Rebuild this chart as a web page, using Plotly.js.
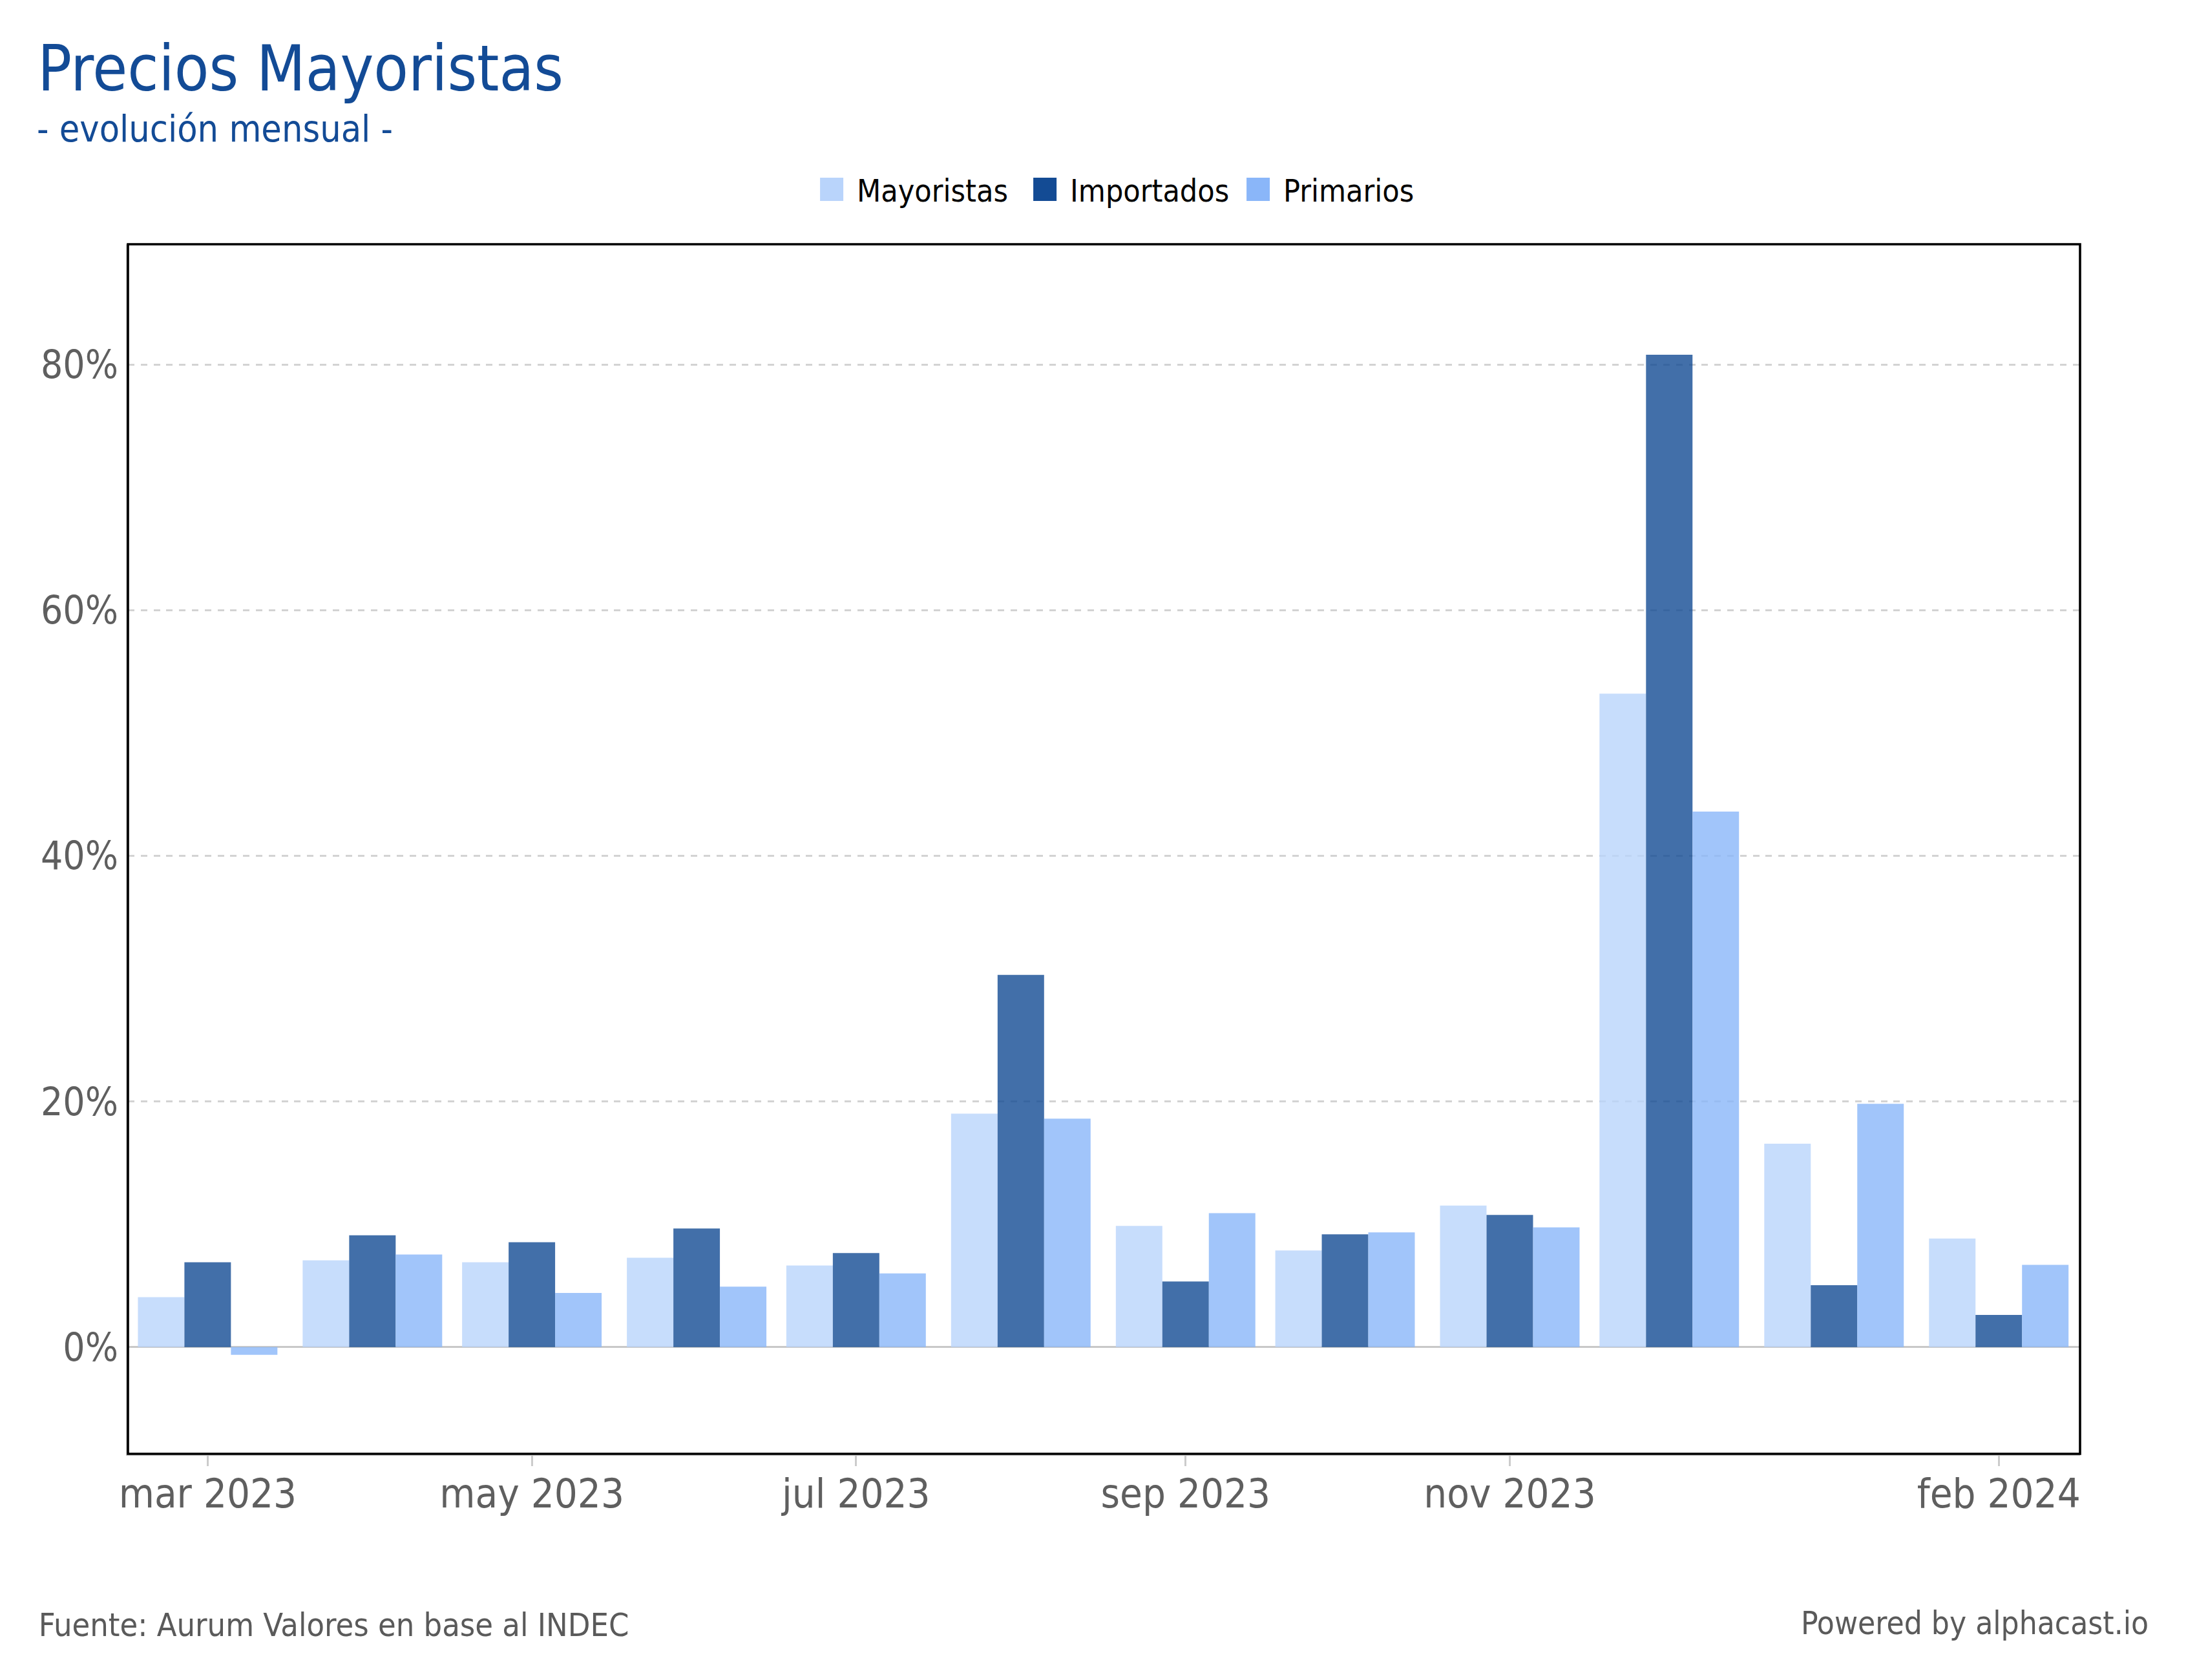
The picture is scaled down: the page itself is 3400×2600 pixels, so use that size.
<!DOCTYPE html>
<html>
<head>
<meta charset="utf-8">
<script src="https://cdn.plot.ly/plotly-3.0.1.min.js"></script>
<style>
  html, body { margin: 0; padding: 0; background: #ffffff; overflow: hidden; }
  #wrap { width: 3400px; height: 2600px; position: relative; }
  #chart { width: 1133.33px; height: 866.67px; transform: scale(3); transform-origin: 0 0; position: absolute; left: 0; top: 0; }
</style>
</head>
<body>
<div id="wrap"><div id="chart"></div></div>
<script>
// ---- data ----
const months = ['2023-03-01','2023-04-01','2023-05-01','2023-06-01','2023-07-01','2023-08-01',
                '2023-09-01','2023-10-01','2023-11-01','2023-12-01','2024-01-01','2024-02-01'];
const mayoristas = [4.06, 7.06, 6.9, 7.27, 6.64, 19.0, 9.86, 7.86, 11.52, 53.2, 16.55, 8.84];
const importados = [6.9, 9.1, 8.53, 9.65, 7.65, 30.3, 5.33, 9.18, 10.75, 80.8, 5.03, 2.61];
const primarios  = [-0.63, 7.53, 4.4, 4.92, 6.0, 18.6, 10.9, 9.33, 9.74, 43.6, 19.8, 6.69];
const seriesNames = ['Mayoristas', 'Importados', 'Primarios'];
const xTickVals = ['2023-03-01','2023-05-01','2023-07-01','2023-09-01','2023-11-01','2024-02-01'];
const xTickText = ['mar 2023','may 2023','jul 2023','sep 2023','nov 2023','feb 2024'];
const yTickVals = [0, 20, 40, 60, 80];
const yTickText = ['0%', '20%', '40%', '60%', '80%'];

const FONT = '"DejaVu Sans Condensed", "Liberation Sans Narrow", "DejaVu Sans", sans-serif';
const colors = ['#b9d4fb', '#134b94', '#8ab6f9'];
const values = [mayoristas, importados, primarios];

const traces = seriesNames.map((name, i) => ({
  type: 'bar',
  name: name,
  x: months,
  y: values[i],
  marker: { color: colors[i], opacity: 0.8, line: { width: 0 } },
  hoverinfo: 'x+y+name'
}));

const layout = {
  width: 1133.33,
  height: 866.67,
  paper_bgcolor: '#ffffff',
  plot_bgcolor: '#ffffff',
  font: { family: FONT, color: '#5f5f5f', size: 16 },
  margin: { l: 66, r: 60, t: 126, b: 116.8, pad: 0 },
  barmode: 'group',
  bargap: 0.125,
  bargroupgap: 0,
  title: {
    text: 'Precios Mayoristas',
    font: { family: FONT, size: 32.5, color: '#134b96' },
    xref: 'container', x: 0.0171, xanchor: 'left',
    yref: 'container', y: 0.9724, yanchor: 'top'
  },
  legend: {
    orientation: 'h',
    x: 0.5045, xanchor: 'center',
    y: 1.0453, yanchor: 'middle',
    entrywidth: 65, entrywidthmode: 'pixels',
    font: { family: FONT, size: 16, color: '#000000' },
    bgcolor: 'rgba(0,0,0,0)'
  },
  xaxis: {
    type: 'date',
    range: ['2023-02-14 00:00', '2024-02-16 07:00'],
    tickmode: 'array',
    tickvals: xTickVals,
    ticktext: xTickText,
    ticks: 'outside',
    ticklen: 5.3,
    tickwidth: 1,
    tickcolor: '#cccccc',
    ticklabelstandoff: -4,
    showgrid: false,
    showline: true,
    linecolor: '#cccccc',
    linewidth: 1,
    zeroline: false,
    tickfont: { family: FONT, size: 21, color: '#5f5f5f' },
    fixedrange: true
  },
  yaxis: {
    range: [-8.7, 89.8],
    tickmode: 'array',
    tickvals: yTickVals,
    ticktext: yTickText,
    ticks: '',
    showgrid: true,
    gridcolor: '#d3d3d3',
    gridwidth: 1.1,
    griddash: '3.3px,3.3px',
    zeroline: true,
    zerolinecolor: '#c8c8c8',
    zerolinewidth: 1.1,
    showline: true,
    linecolor: '#cccccc',
    linewidth: 1,
    tickfont: { family: FONT, size: 20, color: '#5f5f5f' },
    fixedrange: true
  },
  shapes: [{
    type: 'rect', xref: 'paper', yref: 'paper', x0: 0, x1: 1, y0: 0, y1: 1,
    line: { color: '#000000', width: 1.2 }, fillcolor: 'rgba(0,0,0,0)', layer: 'above'
  }],
  annotations: [
    {
      text: '- evolución mensual -',
      xref: 'paper', yref: 'paper', x: -0.0483, xanchor: 'left', y: 1.0958, yanchor: 'middle',
      showarrow: false, font: { family: FONT, size: 19, color: '#134b96' }
    },
    {
      text: 'Fuente: Aurum Valores en base al INDEC',
      xref: 'paper', yref: 'paper', x: -0.0478, xanchor: 'left', y: -0.1405, yanchor: 'middle',
      showarrow: false, font: { family: FONT, size: 16.7, color: '#5a5a5a' }
    },
    {
      text: 'Powered by alphacast.io',
      xref: 'paper', yref: 'paper', x: 1.0364, xanchor: 'right', y: -0.1405, yanchor: 'middle',
      showarrow: false, font: { family: FONT, size: 16.4, color: '#5a5a5a' }
    }
  ]
};

Plotly.newPlot('chart', traces, layout, { displayModeBar: false, responsive: false, staticPlot: true })
  .then(function () {
    // tighten the gap between each legend swatch and its label
    document.querySelectorAll('#chart .legendtext').forEach(function (t) {
      var x = parseFloat(t.getAttribute('x')) || 40;
      t.setAttribute('x', x - 7);
    });
  });
</script>
</body>
</html>
